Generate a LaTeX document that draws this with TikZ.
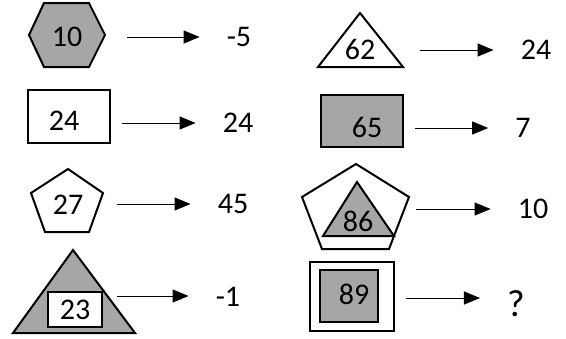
\documentclass[tikz,border=0pt]{standalone}
\usepackage{fontspec}
\setmainfont{Carlito}
\usetikzlibrary{arrows.meta}
\definecolor{shade}{HTML}{A6A6A6}
\begin{document}
\begin{tikzpicture}[x=1pt,y=-1pt,
fig/.style={line width=2pt,line join=miter},
txt/.style={inner sep=0pt,font=\fontsize{30}{34}\selectfont},
arr/.style={line width=1pt,-{Triangle[length=16pt,width=13pt]},shorten >=27pt}]
\useasboundingbox (0,0) rectangle (566,338);
\draw[fig,fill=shade] (29,35) -- (44,3) -- (89,3) -- (105,35) -- (89,67) -- (44,67) -- cycle;
\draw[fig] (28,90) rectangle (110,143);
\draw[fig] (68,169) -- (103,193) -- (89,232) -- (45,232) -- (31,193) -- cycle;
\draw[fig,fill=shade] (13,333) -- (73,250) -- (135,333) -- cycle;
\draw[fig,fill=white] (48,292) rectangle (102,327);
\draw[fig] (318,67) -- (360,13) -- (403,67) -- cycle;
\draw[fig,fill=shade] (321,95) rectangle (403,147);
\draw[fig] (356,164) -- (409,197) -- (389,249) -- (322,249) -- (302,197) -- cycle;
\draw[fig,fill=shade] (323,236) -- (357,182) -- (394,236) -- cycle;
\draw[fig] (310,262) rectangle (394,331);
\draw[fig,fill=shade] (320,270) rectangle (378,322);
\node[txt] (f1) at (67,37) {10};
\node[txt] (f2) at (64,121) {24};
\node[txt] (f3) at (68,205) {27};
\node[txt] (f4) at (75,310) {23};
\node[txt] (f5) at (360,49) {62};
\node[txt] (f6) at (367,127) {65};
\node[txt] (f7) at (358,221) {86};
\node[txt] (f8) at (354,294) {89};
\node[txt] (v1) at (239,37) {-5};
\node[txt] (v2) at (238,123) {24};
\node[txt] (v3) at (233,204) {45};
\node[txt] (v4) at (228,297) {-1};
\node[txt] (v5) at (536,50) {24};
\node[txt] (v6) at (523,128) {7};
\node[txt] (v7) at (533,209) {10};
\node[txt,font=\fontsize{38}{40}\selectfont] (v8) at (516,304) {?};
\coordinate (s1) at (127,37);
\coordinate (s2) at (122,123);
\coordinate (s3) at (117,204);
\coordinate (s4) at (117,296);
\coordinate (s5) at (420,50);
\coordinate (s6) at (415,128);
\coordinate (s7) at (416,209);
\coordinate (s8) at (406,298);
\foreach \i in {1,...,8}
\draw[arr] (s\i) -- (s\i -| v\i.west);
\end{tikzpicture}
\end{document}
